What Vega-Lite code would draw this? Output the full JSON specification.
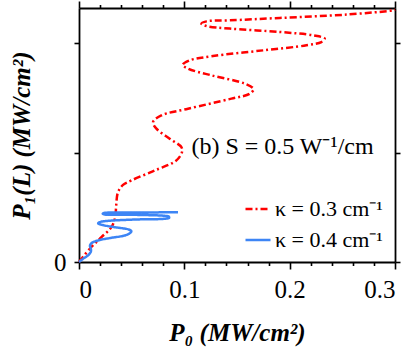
{
  "$schema": "https://vega.github.io/schema/vega-lite/v6.json",
  "width": 316,
  "height": 254,
  "autosize": "none",
  "padding": {"left": 79, "top": 8, "right": 20, "bottom": 100},
  "config": {
    "view": {"stroke": null},
    "font": "Liberation Serif",
    "axis": {
      "domainColor": "black", "domainWidth": 1.8, "tickColor": "black", "tickWidth": 1.6,
      "labelFont": "Liberation Serif", "labelFontSize": 25, "labelColor": "black", "grid": false,
      "titleFont": "Liberation Serif", "titleFontSize": 25, "titleFontWeight": "bold", "titleFontStyle": "italic", "titleColor": "black"
    }
  },
  "datasets": {
    "curves": [
      {"series": "κ = 0.3 cm⁻¹", "i": 0, "x": 0, "y": 0},
      {"series": "κ = 0.3 cm⁻¹", "i": 1, "x": 0.0102, "y": 0.121},
      {"series": "κ = 0.3 cm⁻¹", "i": 2, "x": 0.0213, "y": 0.227},
      {"series": "κ = 0.3 cm⁻¹", "i": 3, "x": 0.0308, "y": 0.318},
      {"series": "κ = 0.3 cm⁻¹", "i": 4, "x": 0.0344, "y": 0.41},
      {"series": "κ = 0.3 cm⁻¹", "i": 5, "x": 0.0353, "y": 0.516},
      {"series": "κ = 0.3 cm⁻¹", "i": 6, "x": 0.037, "y": 0.638},
      {"series": "κ = 0.3 cm⁻¹", "i": 7, "x": 0.0418, "y": 0.704},
      {"series": "κ = 0.3 cm⁻¹", "i": 8, "x": 0.0497, "y": 0.745},
      {"series": "κ = 0.3 cm⁻¹", "i": 9, "x": 0.0719, "y": 0.836},
      {"series": "κ = 0.3 cm⁻¹", "i": 10, "x": 0.0925, "y": 0.928},
      {"series": "κ = 0.3 cm⁻¹", "i": 11, "x": 0.0978, "y": 1.004},
      {"series": "κ = 0.3 cm⁻¹", "i": 12, "x": 0.0972, "y": 1.049},
      {"series": "κ = 0.3 cm⁻¹", "i": 13, "x": 0.0861, "y": 1.126},
      {"series": "κ = 0.3 cm⁻¹", "i": 14, "x": 0.0735, "y": 1.218},
      {"series": "κ = 0.3 cm⁻¹", "i": 15, "x": 0.0703, "y": 1.278},
      {"series": "κ = 0.3 cm⁻¹", "i": 16, "x": 0.0782, "y": 1.339},
      {"series": "κ = 0.3 cm⁻¹", "i": 17, "x": 0.1035, "y": 1.4},
      {"series": "κ = 0.3 cm⁻¹", "i": 18, "x": 0.1447, "y": 1.492},
      {"series": "κ = 0.3 cm⁻¹", "i": 19, "x": 0.1621, "y": 1.537},
      {"series": "κ = 0.3 cm⁻¹", "i": 20, "x": 0.1656, "y": 1.58},
      {"series": "κ = 0.3 cm⁻¹", "i": 21, "x": 0.1573, "y": 1.629},
      {"series": "κ = 0.3 cm⁻¹", "i": 22, "x": 0.1257, "y": 1.705},
      {"series": "κ = 0.3 cm⁻¹", "i": 23, "x": 0.1035, "y": 1.766},
      {"series": "κ = 0.3 cm⁻¹", "i": 24, "x": 0.0985, "y": 1.801},
      {"series": "κ = 0.3 cm⁻¹", "i": 25, "x": 0.1051, "y": 1.842},
      {"series": "κ = 0.3 cm⁻¹", "i": 26, "x": 0.1272, "y": 1.881},
      {"series": "κ = 0.3 cm⁻¹", "i": 27, "x": 0.1747, "y": 1.933},
      {"series": "κ = 0.3 cm⁻¹", "i": 28, "x": 0.2159, "y": 1.979},
      {"series": "κ = 0.3 cm⁻¹", "i": 29, "x": 0.2301, "y": 2.009},
      {"series": "κ = 0.3 cm⁻¹", "i": 30, "x": 0.2333, "y": 2.04},
      {"series": "κ = 0.3 cm⁻¹", "i": 31, "x": 0.2222, "y": 2.07},
      {"series": "κ = 0.3 cm⁻¹", "i": 32, "x": 0.1906, "y": 2.101},
      {"series": "κ = 0.3 cm⁻¹", "i": 33, "x": 0.1431, "y": 2.132},
      {"series": "κ = 0.3 cm⁻¹", "i": 34, "x": 0.121, "y": 2.155},
      {"series": "κ = 0.3 cm⁻¹", "i": 35, "x": 0.1162, "y": 2.177},
      {"series": "κ = 0.3 cm⁻¹", "i": 36, "x": 0.121, "y": 2.198},
      {"series": "κ = 0.3 cm⁻¹", "i": 37, "x": 0.1431, "y": 2.207},
      {"series": "κ = 0.3 cm⁻¹", "i": 38, "x": 0.1906, "y": 2.229},
      {"series": "κ = 0.3 cm⁻¹", "i": 39, "x": 0.2539, "y": 2.26},
      {"series": "κ = 0.3 cm⁻¹", "i": 40, "x": 0.2981, "y": 2.299},
      {"series": "κ = 0.3 cm⁻¹", "i": 41, "x": 0.3, "y": 2.305},
      {"series": "κ = 0.4 cm⁻¹", "i": 0, "x": 0, "y": 0},
      {"series": "κ = 0.4 cm⁻¹", "i": 1, "x": 0.0038, "y": 0.029},
      {"series": "κ = 0.4 cm⁻¹", "i": 2, "x": 0.0085, "y": 0.06},
      {"series": "κ = 0.4 cm⁻¹", "i": 3, "x": 0.0113, "y": 0.096},
      {"series": "κ = 0.4 cm⁻¹", "i": 4, "x": 0.0111, "y": 0.128},
      {"series": "κ = 0.4 cm⁻¹", "i": 5, "x": 0.0104, "y": 0.146},
      {"series": "κ = 0.4 cm⁻¹", "i": 6, "x": 0.0118, "y": 0.172},
      {"series": "κ = 0.4 cm⁻¹", "i": 7, "x": 0.018, "y": 0.197},
      {"series": "κ = 0.4 cm⁻¹", "i": 8, "x": 0.0308, "y": 0.221},
      {"series": "κ = 0.4 cm⁻¹", "i": 9, "x": 0.0434, "y": 0.242},
      {"series": "κ = 0.4 cm⁻¹", "i": 10, "x": 0.0486, "y": 0.265},
      {"series": "κ = 0.4 cm⁻¹", "i": 11, "x": 0.0497, "y": 0.282},
      {"series": "κ = 0.4 cm⁻¹", "i": 12, "x": 0.0472, "y": 0.297},
      {"series": "κ = 0.4 cm⁻¹", "i": 13, "x": 0.0339, "y": 0.318},
      {"series": "κ = 0.4 cm⁻¹", "i": 14, "x": 0.0213, "y": 0.34},
      {"series": "κ = 0.4 cm⁻¹", "i": 15, "x": 0.0182, "y": 0.352},
      {"series": "κ = 0.4 cm⁻¹", "i": 16, "x": 0.0197, "y": 0.364},
      {"series": "κ = 0.4 cm⁻¹", "i": 17, "x": 0.0244, "y": 0.373},
      {"series": "κ = 0.4 cm⁻¹", "i": 18, "x": 0.0529, "y": 0.388},
      {"series": "κ = 0.4 cm⁻¹", "i": 19, "x": 0.0814, "y": 0.395},
      {"series": "κ = 0.4 cm⁻¹", "i": 20, "x": 0.0856, "y": 0.404},
      {"series": "κ = 0.4 cm⁻¹", "i": 21, "x": 0.0852, "y": 0.416},
      {"series": "κ = 0.4 cm⁻¹", "i": 22, "x": 0.0814, "y": 0.422},
      {"series": "κ = 0.4 cm⁻¹", "i": 23, "x": 0.0529, "y": 0.431},
      {"series": "κ = 0.4 cm⁻¹", "i": 24, "x": 0.0244, "y": 0.434},
      {"series": "κ = 0.4 cm⁻¹", "i": 25, "x": 0.0225, "y": 0.441},
      {"series": "κ = 0.4 cm⁻¹", "i": 26, "x": 0.0239, "y": 0.448},
      {"series": "κ = 0.4 cm⁻¹", "i": 27, "x": 0.0275, "y": 0.451},
      {"series": "κ = 0.4 cm⁻¹", "i": 28, "x": 0.0592, "y": 0.452},
      {"series": "κ = 0.4 cm⁻¹", "i": 29, "x": 0.094, "y": 0.455}
    ]
  },
  "layer": [
    {
      "data": {"name": "curves"},
      "mark": {"type": "line", "strokeWidth": 2.5, "interpolate": "catmull-rom"},
      "encoding": {
        "x": {
          "field": "x", "type": "quantitative",
          "scale": {"domain": [0, 0.3], "nice": false},
          "axis": {
            "orient": "bottom",
            "values": [0, 0.02, 0.04, 0.06, 0.08, 0.1, 0.12, 0.14, 0.16, 0.18, 0.2, 0.22, 0.24, 0.26, 0.28, 0.3],
            "tickSize": {"condition": {"test": "round(datum.value*50) % 5 == 0", "value": 7}, "value": 3.5},
            "labelExpr": "(round(datum.value*50) % 5 == 0) ? format(datum.value, '.1~f') : ''",
            "labelFont": "Liberation Serif", "labelFontSize": 25,
            "labelPadding": 8,
            "title": "P₀ (MW/cm²)",
            "titlePadding": 18
          }
        },
        "y": {
          "field": "y", "type": "quantitative",
          "scale": {"domain": [0, 2.32], "nice": false},
          "axis": {
            "orient": "left",
            "values": [0, 1, 2],
            "tickSize": 5,
            "labelExpr": "datum.value == 0 ? '0' : ''",
            "labelFont": "Liberation Serif", "labelFontSize": 25,
            "labelPadding": 8,
            "title": "P₁(L) (MW/cm²)",
            "titlePadding": 19
          }
        },
        "color": {
          "field": "series", "type": "nominal",
          "scale": {"domain": ["κ = 0.3 cm⁻¹", "κ = 0.4 cm⁻¹"], "range": ["#ff0000", "#3d85f5"]},
          "legend": {
            "orient": "none", "legendX": 165, "legendY": 187, "title": null, "padding": 0,
            "symbolType": "stroke", "symbolSize": 625, "symbolStrokeWidth": 2.5,
            "labelFont": "Liberation Serif", "labelFontSize": 22, "labelColor": "black",
            "labelOffset": 3, "rowPadding": 6
          }
        },
        "strokeDash": {
          "field": "series", "type": "nominal",
          "scale": {"domain": ["κ = 0.3 cm⁻¹", "κ = 0.4 cm⁻¹"], "range": [[7, 3, 2, 3], [1, 0]]},
          "legend": {
            "orient": "none", "legendX": 165, "legendY": 187, "title": null, "padding": 0,
            "symbolType": "stroke", "symbolSize": 625, "symbolStrokeWidth": 2.5,
            "labelFont": "Liberation Serif", "labelFontSize": 22, "labelColor": "black",
            "labelOffset": 3, "rowPadding": 6
          }
        },
        "order": {"field": "i", "type": "quantitative"}
      }
    },
    {
      "data": {"values": [{"label": "(b) S = 0.5 W⁻¹/cm"}]},
      "mark": {"type": "text", "align": "left", "baseline": "middle", "fontSize": 24, "font": "Liberation Serif", "color": "black"},
      "encoding": {
        "x": {
          "datum": 0.1067, "type": "quantitative",
          "axis": {
            "orient": "top",
            "values": [0, 0.02, 0.04, 0.06, 0.08, 0.1, 0.12, 0.14, 0.16, 0.18, 0.2, 0.22, 0.24, 0.26, 0.28, 0.3],
            "tickSize": {"condition": {"test": "round(datum.value*50) % 5 == 0", "value": 7}, "value": 3.5},
            "labels": false, "title": null
          }
        },
        "y": {
          "datum": 1.047, "type": "quantitative",
          "axis": {"orient": "right", "values": [0, 1, 2], "tickSize": 5, "labels": false, "title": null}
        },
        "text": {"field": "label"}
      }
    }
  ],
  "resolve": {"axis": {"x": "independent", "y": "independent"}}
}
